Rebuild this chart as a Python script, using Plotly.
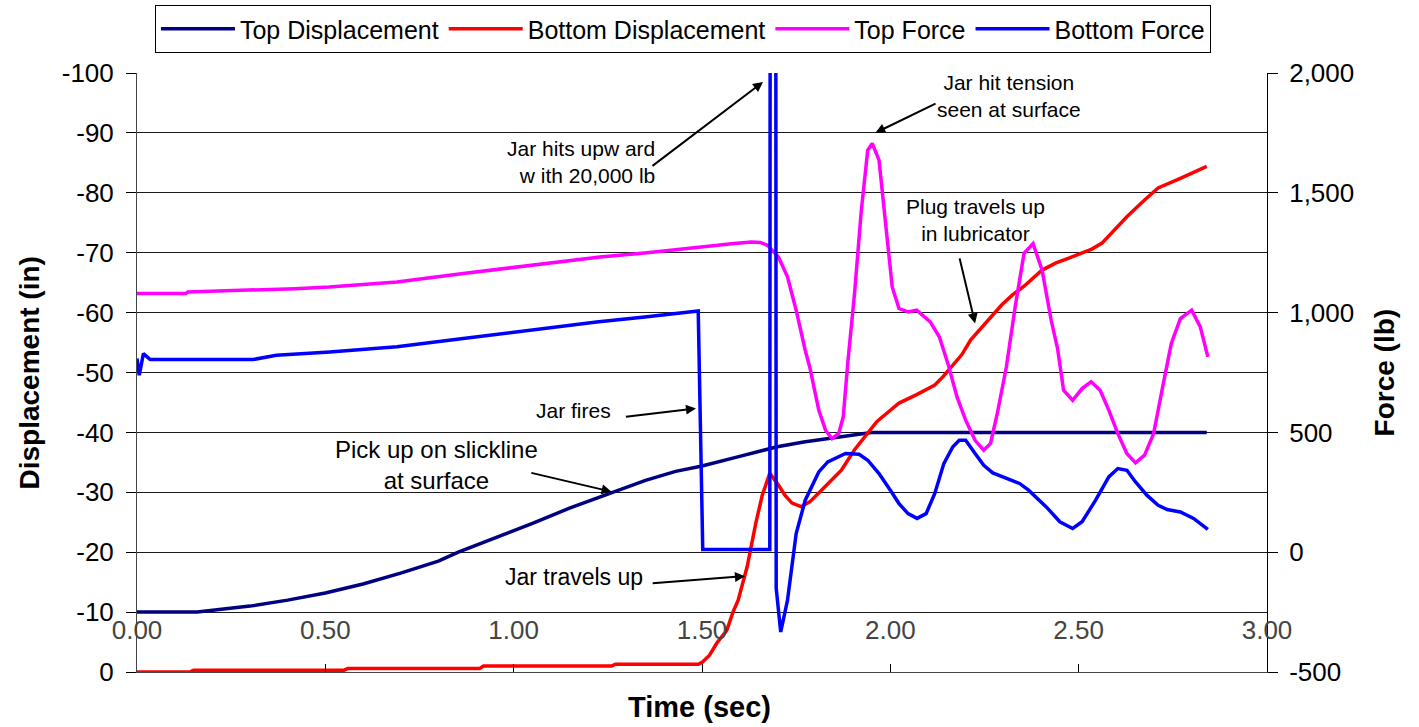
import plotly.graph_objects as go

FONT = "Liberation Sans, Arial, sans-serif"

# ---------------- data ----------------
top_disp_t = [0, 0.16, 0.3, 0.4, 0.5, 0.6, 0.7, 0.8, 0.853, 0.95, 1.05, 1.15, 1.26, 1.35, 1.43, 1.5,
              1.6, 1.7, 1.77, 1.85, 1.9, 1.95, 2.84]
top_disp = [-10, -10, -11.0, -12.0, -13.2, -14.7, -16.5, -18.5, -20.0, -22.3, -24.8, -27.4, -30.0,
            -32.0, -33.5, -34.4, -36.0, -37.6, -38.4, -39.1, -39.6, -40.0, -40.0]

bot_disp_t = [0, 0.14, 0.15, 0.55, 0.56, 0.91, 0.92, 1.26, 1.27, 1.49, 1.5, 1.52, 1.539, 1.566, 1.583,
              1.596, 1.62, 1.643, 1.66, 1.675, 1.68, 1.69, 1.703, 1.72, 1.739, 1.763, 1.786, 1.81,
              1.834, 1.87, 1.905, 1.94, 1.964, 2.0, 2.023, 2.07, 2.118, 2.14, 2.166, 2.19, 2.213,
              2.26, 2.296, 2.325, 2.355, 2.403, 2.44, 2.474, 2.509, 2.535, 2.562, 2.595, 2.628,
              2.675, 2.711, 2.77, 2.84]
bot_disp = [0, 0, -0.3, -0.3, -0.6, -0.6, -1.0, -1.0, -1.3, -1.3, -1.6, -2.8, -4.8, -7.0, -10.1,
            -12.0, -17.6, -24.9, -29.5, -32.5, -33.2, -32.3, -31.2, -29.5, -28.2, -27.6, -28.4, -29.9,
            -31.5, -33.7, -37.1, -39.9, -41.8, -43.7, -44.9, -46.3, -47.9, -49.3, -51.2, -53.0, -55.4,
            -58.8, -61.3, -63.0, -64.4, -67.1, -68.3, -69.1, -69.9, -70.6, -71.6, -73.8, -76.0,
            -78.8, -80.8, -82.4, -84.4]

top_force_t = [0, 0.13, 0.135, 0.29, 0.42, 0.51, 0.69, 0.866, 1.043, 1.229, 1.348, 1.466, 1.585, 1.632,
               1.655, 1.674, 1.703, 1.727, 1.75, 1.774, 1.786, 1.81, 1.828, 1.845, 1.863, 1.875, 1.887,
               1.905, 1.923, 1.94, 1.952, 1.97, 1.988, 2.005, 2.023, 2.047, 2.07, 2.106, 2.13, 2.153,
               2.177, 2.2, 2.225, 2.248, 2.266, 2.284, 2.308, 2.332, 2.355, 2.379, 2.403, 2.427, 2.444,
               2.46, 2.484, 2.509, 2.533, 2.557, 2.58, 2.604, 2.628, 2.651, 2.675, 2.699, 2.723, 2.746,
               2.77, 2.8, 2.823, 2.843]
top_force = [1080, 1080, 1086, 1093, 1100, 1107, 1128, 1163, 1198, 1232, 1249, 1270, 1288, 1295,
             1293, 1281, 1232, 1149, 1010, 843, 773, 593, 509, 474, 496, 565, 790,
             1080, 1427, 1678, 1706, 1636, 1358, 1107, 1017, 1003, 1010, 961, 899, 787,
             648, 551, 467, 426, 454, 579, 773, 1030, 1247, 1288, 1177, 968, 850,
             676, 634, 683, 711, 676, 593, 495, 412, 373, 405, 495, 690, 871,
             975, 1010, 940, 815]

bot_force_t = [0, 0.006, 0.017, 0.035, 0.308, 0.37, 0.512, 0.69, 0.866, 1.043, 1.22, 1.348, 1.466, 1.49,
               1.502, 1.68, 1.6885, 1.697, 1.709, 1.727, 1.75, 1.774, 1.81, 1.834, 1.881, 1.917, 1.94,
               1.97, 2.0, 2.023, 2.047, 2.071, 2.095, 2.118, 2.142, 2.166, 2.183, 2.2, 2.225, 2.248,
               2.272, 2.308, 2.343, 2.367, 2.391, 2.414, 2.45, 2.484, 2.509, 2.545, 2.58, 2.604, 2.628,
               2.651, 2.681, 2.711, 2.735, 2.77, 2.805, 2.843]
bot_force = [808, 739, 829, 804, 804, 822, 836, 857, 892, 927, 961, 982, 1003, 1007,
             11, 11, 20000, -150, -333, -200, 78, 217, 335, 377, 412, 409, 384,
             328, 259, 203, 161, 141, 161, 245, 370, 440, 467, 467, 412, 363,
             331, 308, 287, 259, 224, 189, 127, 99, 127, 217, 314, 349, 342,
             293, 238, 196, 178, 168, 141, 95]

x_ticks = [0, 0.5, 1.0, 1.5, 2.0, 2.5, 3.0]
disp_ticks = [0, -10, -20, -30, -40, -50, -60, -70, -80, -90, -100]
disp_labels = ["0", "-10", "-20", "-30", "-40", "-50", "-60", "-70", "-80", "-90", "-100"]
force_ticks = [-500, 0, 500, 1000, 1500, 2000]
force_labels = ["-500", "0", "500", "1,000", "1,500", "2,000"]

# ---------------- figure ----------------
fig = go.Figure()
fig.add_trace(go.Scatter(x=top_disp_t, y=top_disp, mode="lines", name="Top Displacement",
                         line=dict(color="#000080", width=3.5), yaxis="y"))
fig.add_trace(go.Scatter(x=bot_disp_t, y=bot_disp, mode="lines", name="Bottom Displacement",
                         line=dict(color="#FF0000", width=3.5), yaxis="y"))
fig.add_trace(go.Scatter(x=top_force_t, y=top_force, mode="lines", name="Top Force",
                         line=dict(color="#FF00FF", width=3.5), yaxis="y2"))
fig.add_trace(go.Scatter(x=bot_force_t, y=bot_force, mode="lines", name="Bottom Force",
                         line=dict(color="#0000FF", width=3.5), yaxis="y2"))

# text annotations
texts = [
    dict(x=1.3805, y=-85.2, text="Jar hits upw ard<br>w ith 20,000 lb", xanchor="right", align="right", size=21),
    dict(x=2.315, y=-96.2, text="Jar hit tension<br>seen at surface", xanchor="center", align="center", size=21),
    dict(x=2.227, y=-75.5, text="Plug travels up<br>in lubricator", xanchor="center", align="center", size=21),
    dict(x=1.160, y=-43.6, text="Jar fires", xanchor="center", align="center", size=21),
    dict(x=0.796, y=-34.6, text="Pick up on slickline<br>at surface", xanchor="center", align="center", size=24),
    dict(x=0.971, y=-15.9, text="Jar travels up", xanchor="left", align="left", size=23),
]
for t in texts:
    fig.add_annotation(x=t["x"], y=t["y"], xref="x", yref="y", text=t["text"], showarrow=False,
                       xanchor=t["xanchor"], yanchor="middle", align=t["align"],
                       font=dict(family=FONT, size=t["size"], color="black"))

# arrows: (head_t, head_d, tail_t, tail_d)
arrows = [
    (1.662, -98.5, 1.3646, -84.3),
    (1.960, -90.0, 2.124, -95.0),
    (2.225, -58.2, 2.183, -69.3),
    (1.484, -44.0, 1.294, -42.6),
    (1.260, -30.1, 1.043, -33.3),
    (1.614, -16.0, 1.365, -14.8),
]
for hx, hy, tx, ty in arrows:
    fig.add_annotation(x=hx, y=hy, ax=tx, ay=ty, xref="x", yref="y", axref="x", ayref="y",
                       text="", showarrow=True, arrowhead=2, arrowsize=1, arrowwidth=2,
                       arrowcolor="black", standoff=0, startstandoff=0)

# axis titles
fig.add_annotation(x=0.498, y=-0.0584, xref="paper", yref="paper", text="<b>Time (sec)</b>",
                   showarrow=False, xanchor="center", yanchor="middle",
                   font=dict(family=FONT, size=29, color="black"))
fig.add_annotation(x=-0.0947, y=0.5, xref="paper", yref="paper", text="<b>Displacement (in)</b>",
                   showarrow=False, xanchor="center", yanchor="middle", textangle=-90,
                   font=dict(family=FONT, size=28, color="black"))
fig.add_annotation(x=1.1044, y=0.5, xref="paper", yref="paper", text="<b>Force (lb)</b>",
                   showarrow=False, xanchor="center", yanchor="middle", textangle=-90,
                   font=dict(family=FONT, size=28, color="black"))

fig.update_layout(
    width=1419, height=727,
    margin=dict(l=137, r=152, t=73, b=55, autoexpand=False),
    paper_bgcolor="white", plot_bgcolor="white",
    font=dict(family=FONT, size=26, color="black"),
    showlegend=True,
    legend=dict(orientation="h", xref="container", yref="container", x=0.1092, y=0.9931,
                xanchor="left", yanchor="top",
                bordercolor="black", borderwidth=1, bgcolor="white",
                font=dict(family=FONT, size=25, color="black"), itemwidth=74,
                tracegroupgap=0),
    xaxis=dict(range=[0, 3], tickvals=x_ticks, tickformat=".2f",
               ticks="inside", ticklen=8, tickcolor="black", tickwidth=1,
               ticklabelposition="inside", ticklabelstandoff=22, ticklabeloverflow="allow",
               showline=True, linecolor="#444", linewidth=1, showgrid=False, zeroline=False,
               automargin=False),
    yaxis=dict(range=[0, -100], tickvals=disp_ticks, ticktext=disp_labels,
               ticks="outside", ticklen=10, tickcolor="black", ticklabelstandoff=7,
               showline=True, linecolor="#444", linewidth=1,
               showgrid=True, gridcolor="#1a1a1a", gridwidth=1, zeroline=False, automargin=False),
    yaxis2=dict(range=[-500, 2000], tickvals=force_ticks, ticktext=force_labels,
                overlaying="y", side="right",
                ticks="outside", ticklen=10, tickcolor="black", ticklabelstandoff=6,
                showline=True, linecolor="black", linewidth=1, showgrid=False, zeroline=False,
                automargin=False),
)

fig.write_html("out.html", config={"displayModeBar": False},
               post_script="document.body.style.margin='0';document.body.style.overflow='hidden';")
